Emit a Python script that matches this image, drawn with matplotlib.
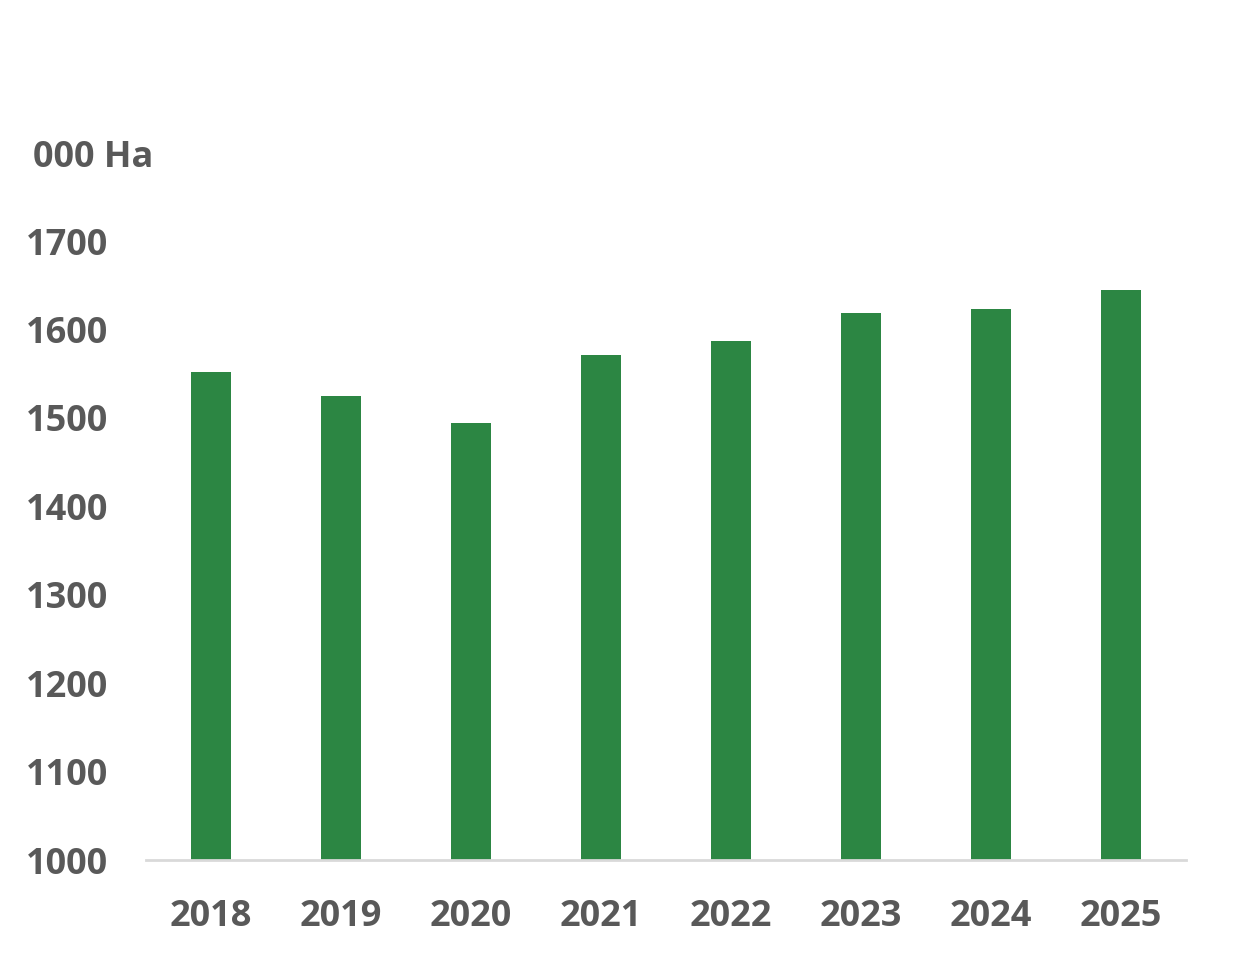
import numpy as np
import matplotlib.pyplot as plt

years = ['2018', '2019', '2020', '2021', '2022', '2023', '2024', '2025']
area = [1552, 1525, 1494, 1571, 1587, 1619, 1623, 1645]
yticks = [1000, 1100, 1200, 1300, 1400, 1500, 1600, 1700]

txt_color = '#595959'
bar_color = '#2c8643'

plt.rcParams['font.family'] = ['Open Sans', 'DejaVu Sans']
plt.rcParams['font.weight'] = 'bold'

fig = plt.figure(figsize=(12.35, 9.75), dpi=100)
ax = fig.add_axes([146/1235, 115/975, 1040/1235, 619/975])

x = np.arange(len(years))
ax.bar(x, area, width=0.315, bottom=0, color=bar_color, zorder=2)

ax.set_xlim(-0.5, len(years) - 0.5)
ax.set_ylim(1000, 1700)
ax.set_yticks(yticks)
ax.set_yticklabels([str(t) for t in yticks])
ax.set_xticks(x)
ax.set_xticklabels(years)

ax.tick_params(axis='both', length=0, labelsize=26, colors=txt_color)
ax.tick_params(axis='x', pad=28)
ax.tick_params(axis='y', pad=27)
for lbl in ax.get_xticklabels() + ax.get_yticklabels():
    lbl.set_fontweight('bold')

for s in ['top', 'right', 'left']:
    ax.spines[s].set_visible(False)
ax.spines['bottom'].set_color('#d9d9d9')
ax.spines['bottom'].set_linewidth(2)

fig.text(33/1235, 1 - 158/975, '000 Ha', fontsize=26, fontweight='bold',
         color=txt_color, ha='left', va='center')

fig.savefig('out.png', dpi=100)
